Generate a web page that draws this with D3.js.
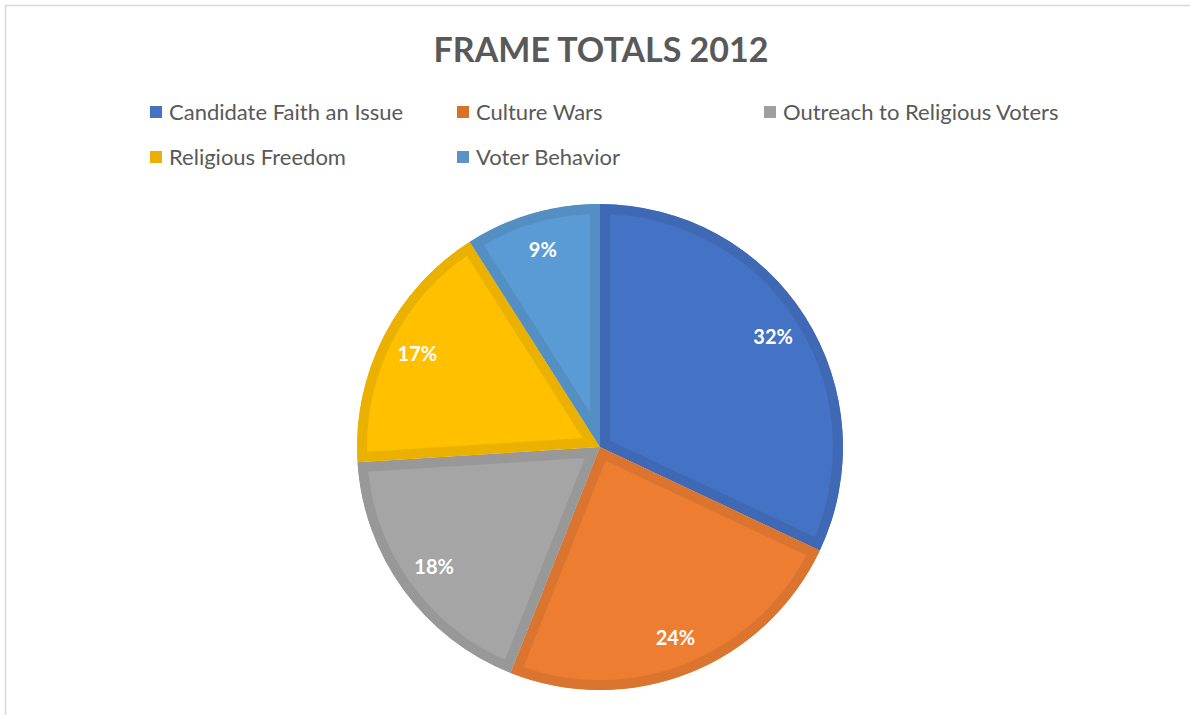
<!DOCTYPE html>
<html>
<head>
<meta charset="utf-8">
<script src="https://cdn.jsdelivr.net/npm/d3@7"></script>
<style>
  html, body { margin: 0; padding: 0; background: #fff; }
  svg { display: block; }
</style>
</head>
<body>
<svg id="chart" width="1190" height="715"></svg>
<script>
// Frame shares, 2012 (percent)
const categories = ["Candidate Faith an Issue", "Culture Wars", "Outreach to Religious Voters", "Religious Freedom", "Voter Behavior"];
const values = [32, 24, 18, 17, 9];
const fills = ["#4472C4", "#ED7D31", "#A5A5A5", "#FFC000", "#5B9BD5"];
const edges = ["#3F68B5", "#DA742E", "#989898", "#EBB100", "#548FC4"];
const legendFills = ["#4472C4", "#D9712C", "#A0A0A0", "#EBB000", "#5B93C9"];

const W = 1190, H = 715;
const svg = d3.select("#chart");
const FONT = "Lato, 'Open Sans', sans-serif";

// chart frame
svg.append("rect")
  .attr("x", 5.5).attr("y", 5.5)
  .attr("width", W + 20).attr("height", H + 20)
  .attr("fill", "#fff").attr("stroke", "#D9D9D9").attr("stroke-width", 1.5);

// title
svg.append("text")
  .attr("x", 601).attr("y", 62)
  .attr("text-anchor", "middle")
  .attr("font-family", FONT).attr("font-weight", 700)
  .attr("font-size", 34).attr("fill", "#595959")
  .text("FRAME TOTALS 2012");

// legend: 3 columns, 2 rows
const col = d3.scaleLinear().domain([0, 1]).range([150, 457]);
const row = d3.scaleLinear().domain([0, 1]).range([112, 157]);
const legend = svg.append("g").selectAll("g")
  .data(categories)
  .join("g")
  .attr("transform", (d, i) => `translate(${col(i % 3)},${row(Math.floor(i / 3))})`);
legend.append("rect")
  .attr("x", 0).attr("y", -6).attr("width", 12).attr("height", 12)
  .attr("fill", (d, i) => legendFills[i]);
legend.append("text")
  .attr("x", 19).attr("y", 0).attr("dy", "0.35em")
  .attr("font-family", FONT).attr("font-size", 22).attr("fill", "#595959")
  .text(d => d);

// pie
const cx = 600, cy = 447, R = 243;
const pie = d3.pie().sort(null).value(d => d);
const arcs = pie(values);
const arc = d3.arc().innerRadius(0).outerRadius(R);
const labelArc = d3.arc().innerRadius(205).outerRadius(205);

const g = svg.append("g").attr("transform", `translate(${cx},${cy})`);
const defs = svg.append("defs");
arcs.forEach((a, i) => {
  defs.append("clipPath").attr("id", "slice-clip-" + i)
    .append("path").attr("d", arc(a));
});

g.selectAll("path.slice")
  .data(arcs)
  .join("path")
  .attr("class", "slice")
  .attr("d", arc)
  .attr("fill", (d, i) => fills[i])
  .attr("stroke", (d, i) => edges[i])
  .attr("stroke-width", 20)
  .attr("stroke-linejoin", "miter")
  .attr("clip-path", (d, i) => `url(#slice-clip-${i})`);

g.selectAll("text.pct")
  .data(arcs)
  .join("text")
  .attr("class", "pct")
  .attr("transform", d => `translate(${labelArc.centroid(d)})`)
  .attr("text-anchor", "middle").attr("dy", "0.35em")
  .attr("font-family", FONT).attr("font-weight", 700)
  .attr("font-size", 20).attr("fill", "#fff")
  .text(d => d.data + "%");
</script>
</body>
</html>
